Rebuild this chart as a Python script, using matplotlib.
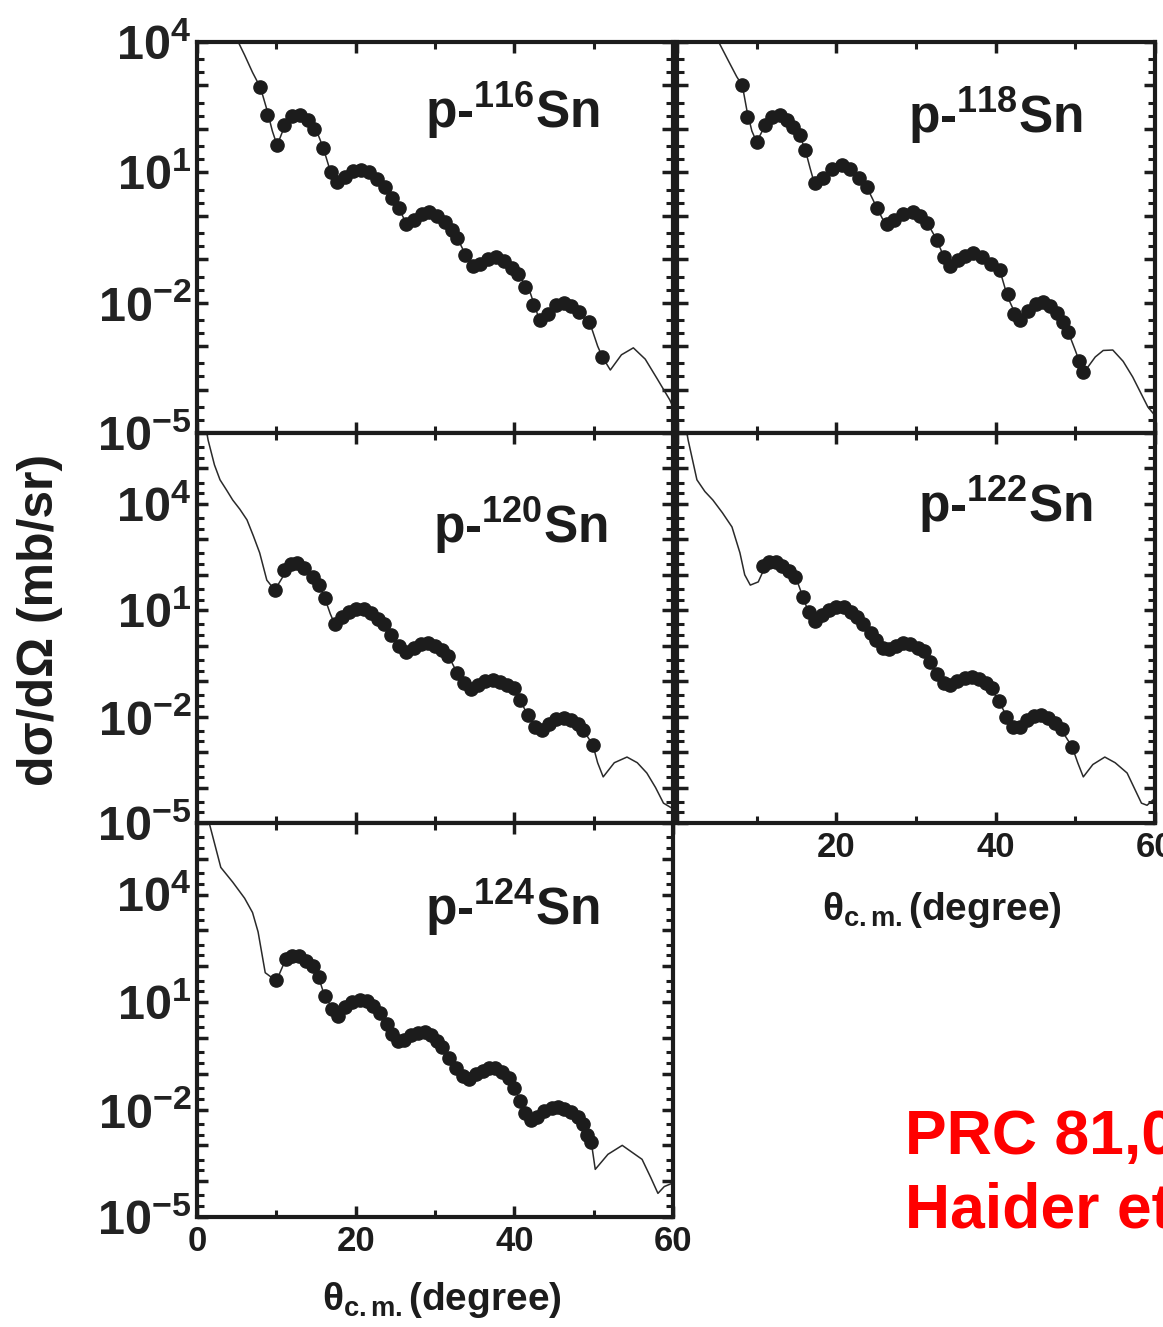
import numpy as np
import matplotlib
matplotlib.use("Agg")
import matplotlib.pyplot as plt
from matplotlib.ticker import FixedLocator, FuncFormatter, LogLocator, NullFormatter

plt.rcParams['font.family'] = ['Liberation Sans', 'DejaVu Sans']
plt.rcParams['font.weight'] = 'bold'
plt.rcParams['mathtext.fontset'] = 'custom'
plt.rcParams['mathtext.rm'] = 'Liberation Sans:bold'
plt.rcParams['mathtext.it'] = 'Liberation Sans:bold'
plt.rcParams['mathtext.bf'] = 'Liberation Sans:bold'
plt.rcParams['mathtext.sf'] = 'Liberation Sans:bold'

# ---- data: theta (deg) and log10(dsigma/dOmega in mb/sr) ----
# p-116Sn
th116_curve = [4.5, 5.2, 6.0, 7.0, 8.0, 8.8, 9.5, 10.1, 10.8, 11.5, 12.3, 13.0, 13.8, 14.6, 15.3, 15.9,
               16.6, 17.6, 18.5, 19.5, 20.8, 21.8, 22.8, 23.7, 24.6, 25.4, 26.6, 27.5, 28.5, 29.4, 30.5,
               31.5, 32.8, 34.0, 35.3, 36.5, 37.8, 39.0, 40.4, 42.0, 43.3, 44.5, 46.2, 48.0, 49.6, 50.5,
               51.1, 52.1, 53.5, 55.0, 56.5, 58.0, 59.6, 60.0]
lg116_curve = [4.3, 4.0, 3.7, 3.3, 2.95, 2.45, 1.95, 1.62, 1.95, 2.2, 2.32, 2.33, 2.22, 2.05, 1.85, 1.57,
               1.15, 0.76, 0.85, 1.0, 1.06, 1.0, 0.85, 0.67, 0.42, 0.18, -0.25, -0.12, 0.05, 0.09, 0.0,
               -0.16, -0.51, -0.95, -1.2, -1.05, -0.94, -1.1, -1.31, -1.77, -2.47, -2.2, -2.0, -2.2, -2.51, -3.0,
               -3.25, -3.55, -3.2, -3.04, -3.3, -3.75, -4.24, -4.4]
th116_exp = [8.0, 8.8, 10.1, 11.0, 12.0, 13.0, 14.0, 14.8, 15.9, 16.9, 17.7, 18.7, 19.7, 20.7, 21.7, 22.7,
             23.7, 24.6, 25.4, 26.4, 27.3, 28.3, 29.3, 30.3, 31.3, 32.1, 32.8, 33.8, 34.8, 35.7, 36.7,
             37.7, 38.7, 39.7, 40.5, 41.4, 42.3, 43.2, 44.2, 45.2, 46.2, 47.2, 48.2, 49.4, 51.1]
lg116_exp = [2.97, 2.33, 1.64, 2.1, 2.3, 2.33, 2.2, 2.0, 1.57, 1.0, 0.78, 0.9, 1.02, 1.06, 1.0, 0.85,
             0.67, 0.42, 0.18, -0.2, -0.1, 0.05, 0.09, 0.0, -0.14, -0.32, -0.51, -0.9, -1.15, -1.12, -1.0,
             -0.94, -1.05, -1.2, -1.35, -1.65, -2.05, -2.4, -2.25, -2.05, -2.0, -2.08, -2.22, -2.45, -3.25]

# p-118Sn
th118_curve = [4.8, 5.4, 6.5, 7.5, 8.2, 8.8, 9.4, 10.0, 10.7, 11.5, 12.9, 14.6, 15.4, 16.1, 16.7, 17.3,
               18.3, 19.5, 20.7, 22.2, 23.8, 25.1, 26.3, 27.5, 28.5, 29.6, 30.5, 31.4, 32.6, 33.5, 34.3,
               35.5, 37.2, 38.8, 40.5, 41.5, 43.0, 44.3, 45.9, 47.7, 49.1, 50.0, 50.9, 51.5, 52.5, 53.5,
               54.7, 56.0, 57.2, 59.1, 60.0]
lg118_curve = [4.15, 3.94, 3.55, 3.2, 3.0, 2.4, 1.95, 1.7, 1.95, 2.2, 2.33, 2.05, 1.85, 1.52, 1.1, 0.71,
               0.85, 1.08, 1.18, 1.0, 0.67, 0.18, -0.25, -0.1, 0.05, 0.09, 0.0, -0.16, -0.55, -0.95, -1.18,
               -1.0, -0.85, -1.0, -1.24, -1.87, -2.47, -2.15, -1.98, -2.24, -2.67, -3.1, -3.55, -3.5, -3.25, -3.1,
               -3.09, -3.35, -3.71, -4.4, -4.6]
th118_exp = [8.2, 8.8, 10.0, 11.0, 11.9, 12.9, 13.8, 14.6, 15.4, 16.1, 17.3, 18.3, 19.5, 20.7, 21.7, 22.8,
             23.8, 25.1, 26.3, 27.3, 28.4, 29.6, 30.5, 31.4, 32.6, 33.5, 34.3, 35.3, 36.2, 37.2, 38.3,
             39.4, 40.5, 41.5, 42.3, 43.0, 44.0, 45.0, 45.9, 46.8, 47.7, 48.5, 49.1, 50.5, 51.0]
lg118_exp = [3.0, 2.28, 1.7, 2.1, 2.28, 2.33, 2.2, 2.05, 1.85, 1.52, 0.75, 0.87, 1.08, 1.18, 1.08, 0.88,
             0.67, 0.18, -0.2, -0.1, 0.05, 0.09, 0.0, -0.16, -0.55, -0.95, -1.15, -1.02, -0.92, -0.85, -0.95,
             -1.1, -1.24, -1.8, -2.25, -2.4, -2.2, -2.02, -1.98, -2.08, -2.24, -2.45, -2.67, -3.35, -3.6]

# p-120Sn
th120_curve = [1.0, 1.4, 2.2, 2.9, 3.7, 4.5, 5.4, 6.3, 7.1, 7.9, 8.8, 9.8, 10.7, 11.4, 12.1, 13.3, 14.6,
               15.4, 16.1, 16.8, 17.4, 18.4, 19.5, 20.8, 22.0, 23.3, 24.6, 25.5, 26.5, 27.7, 29.0, 30.3,
               31.5, 32.8, 33.6, 34.4, 35.8, 37.3, 38.5, 39.8, 40.7, 41.8, 43.3, 44.7, 46.2, 47.5, 48.7,
               49.9, 50.5, 51.2, 52.6, 54.2, 55.5, 56.7, 57.8, 58.8, 60.0]
lg120_curve = [6.3, 5.8, 5.1, 4.68, 4.4, 4.11, 3.85, 3.55, 3.1, 2.62, 1.85, 1.57, 1.9, 2.2, 2.33, 2.2, 1.94,
               1.7, 1.35, 0.9, 0.59, 0.8, 1.0, 1.06, 0.9, 0.64, 0.3, 0.0, -0.2, -0.02, 0.08, -0.02,
               -0.2, -0.77, -1.05, -1.25, -1.05, -0.97, -1.05, -1.16, -1.53, -2.0, -2.43, -2.2, -2.04, -2.15, -2.38,
               -2.8, -3.3, -3.7, -3.3, -3.14, -3.3, -3.59, -4.0, -4.44, -4.6]
th120_exp = [9.8, 11.0, 11.8, 12.6, 13.5, 14.6, 15.4, 16.1, 17.4, 18.3, 19.2, 20.1, 21.0, 21.9, 22.8, 23.6,
             24.5, 25.5, 26.4, 27.3, 28.2, 29.1, 30.0, 30.9, 31.7, 32.8, 33.6, 34.5, 35.4, 36.3, 37.3,
             38.2, 39.1, 39.9, 40.7, 41.7, 42.6, 43.5, 44.4, 45.3, 46.2, 47.1, 48.0, 48.7, 49.9]
lg120_exp = [1.57, 2.15, 2.3, 2.33, 2.2, 1.94, 1.7, 1.35, 0.62, 0.8, 0.95, 1.04, 1.05, 0.92, 0.75, 0.6,
             0.3, 0.0, -0.18, -0.05, 0.05, 0.08, 0.0, -0.12, -0.3, -0.77, -1.05, -1.22, -1.1, -1.0, -0.97,
             -1.02, -1.1, -1.18, -1.53, -1.95, -2.3, -2.38, -2.22, -2.08, -2.04, -2.1, -2.22, -2.38, -2.8]

# p-122Sn
th122_curve = [1.0, 1.4, 2.5, 3.5, 4.5, 5.7, 6.9, 7.9, 8.5, 9.2, 10.2, 11.0, 12.0, 13.3, 14.6, 15.2, 15.8,
               16.5, 17.3, 18.5, 20.5, 22.0, 23.3, 24.8, 26.3, 27.3, 28.4, 29.7, 30.9, 31.7, 32.4, 33.3,
               34.3, 35.7, 37.1, 38.3, 39.3, 40.3, 41.3, 42.4, 44.0, 45.5, 46.8, 48.0, 49.6, 50.3, 51.0,
               52.2, 53.7, 55.0, 56.5, 58.3, 59.0, 60.0]
lg122_curve = [6.3, 5.8, 4.68, 4.35, 4.11, 3.75, 3.35, 2.62, 2.0, 1.71, 1.8, 2.2, 2.36, 2.2, 2.0, 1.75, 1.38,
               0.95, 0.64, 0.9, 1.09, 0.9, 0.64, 0.25, -0.12, 0.02, 0.1, 0.0, -0.12, -0.45, -0.77, -1.0,
               -1.16, -0.95, -0.88, -1.0, -1.16, -1.53, -1.95, -2.32, -2.05, -1.95, -2.1, -2.29, -2.85, -3.3, -3.7,
               -3.35, -3.14, -3.3, -3.59, -4.44, -4.5, -4.3]
th122_exp = [10.8, 11.6, 12.4, 13.2, 14.1, 14.8, 15.8, 16.6, 17.3, 18.2, 19.1, 20.0, 20.9, 21.8, 22.6, 23.4,
             24.3, 25.0, 25.8, 26.6, 27.5, 28.4, 29.3, 30.2, 31.0, 31.8, 32.6, 33.5, 34.3, 35.2, 36.1,
             37.0, 37.9, 38.8, 39.6, 40.4, 41.3, 42.2, 43.0, 43.9, 44.8, 45.7, 46.6, 47.5, 48.3, 49.6]
lg122_exp = [2.25, 2.35, 2.36, 2.25, 2.1, 1.95, 1.38, 0.95, 0.7, 0.88, 1.02, 1.08, 1.08, 0.95, 0.8, 0.62,
             0.35, 0.15, -0.05, -0.1, 0.0, 0.08, 0.05, -0.05, -0.15, -0.45, -0.8, -1.05, -1.12, -1.0, -0.92,
             -0.88, -0.95, -1.05, -1.2, -1.55, -2.0, -2.28, -2.3, -2.1, -1.98, -1.95, -2.05, -2.18, -2.35, -2.85]

# p-124Sn
th124_curve = [1.2, 1.6, 3.0, 4.5, 6.0, 7.0, 7.7, 8.6, 10.0, 11.0, 12.2, 13.6, 15.0, 16.1, 17.8, 19.3,
               20.9, 22.0, 23.1, 24.2, 25.3, 27.0, 28.7, 29.8, 30.9, 32.6, 34.3, 36.0, 37.6, 39.3, 40.4,
               42.1, 43.8, 45.5, 47.0, 48.3, 49.7, 50.2, 51.8, 53.6, 56.1, 57.2, 58.1, 58.9, 60.0]
lg124_curve = [6.2, 5.95, 4.76, 4.35, 3.9, 3.5, 2.96, 1.82, 1.59, 2.1, 2.3, 2.15, 1.92, 1.16, 0.59, 0.95,
               1.07, 0.9, 0.69, 0.25, -0.17, 0.05, 0.17, 0.0, -0.26, -0.83, -1.2, -0.95, -0.83, -1.11, -1.59,
               -2.35, -2.05, -1.92, -2.05, -2.25, -2.91, -3.67, -3.25, -3.0, -3.39, -3.9, -4.34, -4.15, -4.05]
th124_exp = [10.0, 11.2, 12.0, 12.8, 13.7, 14.6, 15.4, 16.1, 17.0, 17.8, 18.7, 19.6, 20.5, 21.4, 22.2, 23.1,
             23.9, 24.6, 25.3, 26.1, 27.0, 27.9, 28.7, 29.5, 30.3, 30.9, 31.8, 32.6, 33.5, 34.3, 35.2,
             36.0, 36.8, 37.6, 38.5, 39.3, 40.0, 40.7, 41.4, 42.1, 42.9, 43.8, 44.7, 45.5, 46.3, 47.2,
             48.0, 48.6, 49.2, 49.7]
lg124_exp = [1.62, 2.2, 2.3, 2.3, 2.15, 2.0, 1.7, 1.16, 0.8, 0.62, 0.85, 1.0, 1.07, 1.02, 0.88, 0.69,
             0.4, 0.1, -0.1, -0.05, 0.08, 0.15, 0.17, 0.08, -0.1, -0.26, -0.55, -0.83, -1.05, -1.15, -1.02,
             -0.92, -0.85, -0.83, -0.95, -1.11, -1.4, -1.75, -2.1, -2.3, -2.2, -2.05, -1.95, -1.92, -1.98, -2.08,
             -2.2, -2.4, -2.7, -2.91]

panels = [
    ("116", th116_curve, lg116_curve, th116_exp, lg116_exp),
    ("118", th118_curve, lg118_curve, th118_exp, lg118_exp),
    ("120", th120_curve, lg120_curve, th120_exp, lg120_exp),
    ("122", th122_curve, lg122_curve, th122_exp, lg122_exp),
    ("124", th124_curve, lg124_curve, th124_exp, lg124_exp),
]

W, H = 1163, 1327
fig = plt.figure(figsize=(W / 100, H / 100), dpi=100)
fig.patch.set_facecolor('white')


def px_axes(x0, y0, x1, y1):
    # pixel box (top-left origin) -> figure axes
    return fig.add_axes([x0 / W, 1 - y1 / H, (x1 - x0) / W, (y1 - y0) / H])


boxes = [(197, 42, 673, 433), (677, 42, 1155, 433),
         (197, 433, 673, 823), (677, 433, 1155, 823),
         (197, 823, 673, 1217)]
ylims = [(1e-5, 1e4), (1e-5, 1e4), (1e-5, 1e6), (1e-5, 1e6), (1e-5, 1e6)]
lab_pos = [(0.479, 0.78), (0.483, 0.767), (0.496, 0.718), (0.504, 0.772), (0.479, 0.741)]
ink = '#1c1c1c'


def ylab(v, pos):
    e = int(round(np.log10(v)))
    if e in (-5, -2, 1, 4):
        return r'$10^{%d}$' % e
    return ''


for i, (name, thc, lgc, the, lge) in enumerate(panels):
    ax = px_axes(*boxes[i])
    ax.plot(thc, 10 ** np.array(lgc), color='#2a2a2a', lw=1.1, zorder=2)
    ax.plot(the, 10 ** np.array(lge), 'o', color=ink, ms=9.5, mec=ink, zorder=3)
    ax.set_yscale('log')
    ax.set_xlim(0, 60)
    ax.set_ylim(*ylims[i])
    for s in ax.spines.values():
        s.set_linewidth(3.0)
        s.set_color(ink)
    ax.xaxis.set_major_locator(FixedLocator([0, 20, 40, 60]))
    ax.xaxis.set_minor_locator(FixedLocator([10, 30, 50]))
    ax.yaxis.set_major_locator(FixedLocator([10.0 ** k for k in range(-5, 7)]))
    ax.yaxis.set_minor_locator(LogLocator(base=10, subs=(2.0, 4.0), numticks=30))
    ax.yaxis.set_minor_formatter(NullFormatter())
    ax.tick_params(which='both', direction='in', top=True, right=True, colors=ink)
    ax.tick_params(which='major', length=8, width=2.5)
    ax.tick_params(which='minor', length=5, width=2.2)
    ax.tick_params(axis='x', which='major', labelsize=25, pad=6)
    if i % 2 == 0:
        ax.yaxis.set_major_formatter(FuncFormatter(ylab))
        ax.tick_params(axis='y', which='major', labelsize=35, pad=4, labelcolor='#222222')
    else:
        ax.tick_params(axis='y', labelleft=False)
    if i == 4:
        ax.xaxis.set_major_formatter(FuncFormatter(lambda v, p: '%d' % v))
    elif i == 3:
        ax.xaxis.set_major_formatter(FuncFormatter(lambda v, p: '' if v == 0 else '%d' % v))
    else:
        ax.tick_params(axis='x', labelbottom=False)
    ax.text(lab_pos[i][0], lab_pos[i][1], 'p-$^{%s}$Sn' % name, transform=ax.transAxes,
            fontsize=37, fontweight='bold', color=ink, va='baseline', ha='left')

# axis titles
fig.text(40 / W, 1 - 620 / H, 'dσ/dΩ (mb/sr)', rotation=90, fontsize=36, fontweight='bold',
         color=ink, ha='center', va='center')
fig.text(322 / W, 1 - 1310 / H, r'$\theta_{c.m.}$(degree)', fontsize=28, fontweight='bold',
         color=ink, ha='left', va='baseline')
fig.text(822 / W, 1 - 920 / H, r'$\theta_{c.m.}$(degree)', fontsize=28, fontweight='bold',
         color=ink, ha='left', va='baseline')

# reference note (cut by the right edge, as in the source)
fig.text(905 / W, 1 - 1154 / H, 'PRC 81,064610 (2010)', fontsize=45, fontweight='bold',
         color='#ff0000', ha='left', va='baseline')
fig.text(905 / W, 1 - 1228 / H, 'Haider et al.', fontsize=45, fontweight='bold',
         color='#ff0000', ha='left', va='baseline')

fig.savefig('out.png', dpi=100, facecolor='white')
